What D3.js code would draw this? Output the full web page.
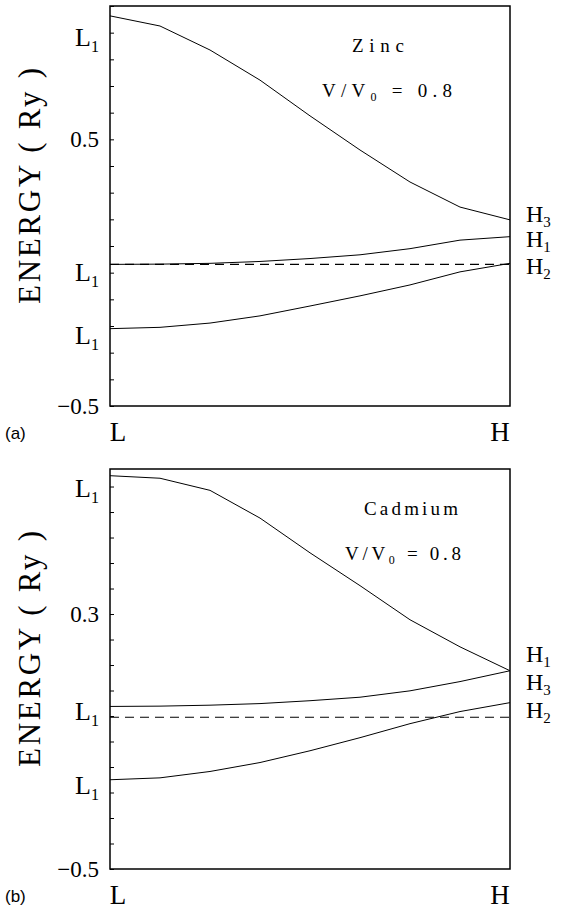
<!DOCTYPE html>
<html>
<head>
<meta charset="utf-8">
<script src="https://cdn.jsdelivr.net/npm/d3@7"></script>
<style>
  body { margin: 0; background: #fff; }
</style>
</head>
<body>
<div id="chart"></div>
<script>
// k-path sample points, L (0) to H (8)
const kPoints = [0, 1, 2, 3, 4, 5, 6, 7, 8];

// (a) Zinc, V/V0 = 0.8  (Ry)
const zincUpper  = [0.963, 0.925, 0.835, 0.722, 0.588, 0.460, 0.340, 0.246, 0.198];
const zincMiddle = [0.031, 0.032, 0.035, 0.042, 0.053, 0.067, 0.090, 0.122, 0.135];
const zincLower  = [-0.210, -0.205, -0.189, -0.162, -0.125, -0.087, -0.046, 0.003, 0.035];
const zincFermi  = 0.031;

// (b) Cadmium, V/V0 = 0.8  (Ry)
const cadUpper  = [0.734, 0.726, 0.688, 0.601, 0.492, 0.389, 0.282, 0.197, 0.122];
const cadMiddle = [0.010, 0.011, 0.014, 0.019, 0.028, 0.039, 0.059, 0.088, 0.122];
const cadLower  = [-0.220, -0.214, -0.194, -0.166, -0.129, -0.088, -0.044, -0.006, 0.022];
const cadFermi  = -0.024;

// axis ticks
const zincTickLabels = [-0.5, 0.5];
const zincTickStep = 0.1;
const cadTickLabels = [-0.5, 0.3];
const cadTickStep = 0.08;

// symmetry labels
const zincLLabels = ['1', '1', '1'];
const zincHLabels = ['3', '1', '2'];
const cadLLabels = ['1', '1', '1'];
const cadHLabels = ['1', '3', '2'];

const serif = '"Liberation Serif", "DejaVu Serif", "Times New Roman", serif';

const width = 566, height = 912;
const svg = d3.select('#chart').append('svg')
    .attr('width', width)
    .attr('height', height)
    .style('font-family', serif);

const panels = [
    {
        top: 6, domain: [-0.5, 1.0], step: zincTickStep, tickLabels: zincTickLabels,
        bands: [zincUpper, zincMiddle, zincLower], fermi: zincFermi,
        lLabels: zincLLabels, lLabelY: [31, 266, 329],
        hLabels: zincHLabels, hLabelY: [209, 234, 261],
        tag: '(a)', name: 'Zinc', nameX: 378, nameW: 52, ratioX: 322, ratioW: 130
    },
    {
        top: 469, domain: [-0.5, 0.755], step: cadTickStep, tickLabels: cadTickLabels,
        bands: [cadUpper, cadMiddle, cadLower], fermi: cadFermi,
        lLabels: cadLLabels, lLabelY: [19, 242, 316],
        hLabels: cadHLabels, hLabelY: [186, 214, 242],
        tag: '(b)', name: 'Cadmium', nameX: 411, nameW: 94, ratioX: 345, ratioW: 116
    }
];

const left = 110, right = 510, plotH = 400;

const x = d3.scaleLinear()
    .domain(d3.extent(kPoints))
    .range([left, right]);

panels.forEach(p => {
    const g = svg.append('g').attr('transform', `translate(0,${p.top})`);

    const y = d3.scaleLinear()
        .domain(p.domain)
        .range([plotH, 0]);

    // minor ticks on the left axis, pointing inward
    const ticks = d3.range(p.domain[0], p.domain[1] + 1e-6, p.step);
    g.append('g')
        .attr('transform', `translate(${left},0)`)
        .call(d3.axisRight(y).tickValues(ticks).tickSize(4).tickFormat(''))
        .call(a => a.select('.domain').remove())
        .selectAll('line').attr('stroke', '#000').attr('stroke-width', 1);

    // tick labels
    g.selectAll('.tick-label')
        .data(p.tickLabels)
        .enter().append('text')
        .attr('class', 'tick-label')
        .attr('x', 99)
        .attr('y', d => y(d))
        .attr('dy', '0.35em')
        .attr('text-anchor', 'end')
        .style('font-size', '23px')
        .text(d => (d < 0 ? '\u2212' : '') + Math.abs(d).toFixed(1));

    // fermi level
    g.append('line')
        .attr('x1', x(kPoints[0])).attr('x2', x(kPoints[kPoints.length - 1]))
        .attr('y1', y(p.fermi)).attr('y2', y(p.fermi))
        .attr('stroke', '#000')
        .attr('stroke-width', 1.1)
        .attr('stroke-dasharray', '9,6');

    // bands
    const line = d3.line()
        .x((d, i) => x(kPoints[i]))
        .y(d => y(d));

    g.selectAll('.band')
        .data(p.bands)
        .enter().append('path')
        .attr('class', 'band')
        .attr('d', line)
        .attr('fill', 'none')
        .attr('stroke', '#000')
        .attr('stroke-width', 1);

    // frame
    g.append('rect')
        .attr('x', left).attr('y', 0)
        .attr('width', right - left).attr('height', plotH)
        .attr('fill', 'none')
        .attr('stroke', '#000')
        .attr('stroke-width', 1.5);

    // L labels
    g.selectAll('.l-label')
        .data(p.lLabels)
        .enter().append('text')
        .attr('class', 'l-label')
        .attr('x', 99)
        .attr('y', (d, i) => p.lLabelY[i])
        .attr('dy', '0.35em')
        .attr('text-anchor', 'end')
        .style('font-size', '26px')
        .each(function (d) {
            const t = d3.select(this);
            t.append('tspan').text('L');
            t.append('tspan').attr('dy', 6).style('font-size', '16px').text(d);
        });

    // H labels
    g.selectAll('.h-label')
        .data(p.hLabels)
        .enter().append('text')
        .attr('class', 'h-label')
        .attr('x', 526)
        .attr('y', (d, i) => p.hLabelY[i])
        .attr('dy', '0.3em')
        .style('font-size', '24px')
        .each(function (d) {
            const t = d3.select(this);
            t.append('tspan').text('H');
            t.append('tspan').attr('dy', 5).style('font-size', '15px').text(d);
        });

    // k-point labels
    g.append('text')
        .attr('x', x(kPoints[0]) + 8).attr('y', plotH + 26)
        .attr('dy', '0.35em')
        .attr('text-anchor', 'middle')
        .style('font-size', '27px')
        .text('L');
    g.append('text')
        .attr('x', x(kPoints[kPoints.length - 1]) - 10).attr('y', plotH + 26)
        .attr('dy', '0.35em')
        .attr('text-anchor', 'middle')
        .style('font-size', '27px')
        .text('H');

    // panel tag
    g.append('text')
        .attr('x', 5).attr('y', plotH + 27)
        .attr('dy', '0.35em')
        .style('font-family', '"Liberation Sans", Arial, sans-serif')
        .style('font-size', '17px')
        .text(p.tag);

    // y axis title
    g.append('text')
        .attr('transform', 'translate(40,180) rotate(-90)')
        .attr('text-anchor', 'middle')
        .attr('textLength', 236)
        .attr('lengthAdjust', 'spacing')
        .style('font-size', '31px')
        .text('ENERGY ( Ry )');

    // metal name and volume ratio
    g.append('text')
        .attr('x', p.nameX - p.nameW / 2).attr('y', 39)
        .attr('dy', '0.35em')
        .attr('textLength', p.nameW)
        .attr('lengthAdjust', 'spacing')
        .style('font-size', '19px')
        .text(p.name);

    const ratio = g.append('text')
        .attr('x', p.ratioX).attr('y', 84)
        .attr('dy', '0.35em')
        .attr('textLength', p.ratioW)
        .attr('lengthAdjust', 'spacing')
        .style('font-size', '19px');
    ratio.append('tspan').text('V/V');
    ratio.append('tspan').attr('dy', 4).style('font-size', '12px').text('0');
    ratio.append('tspan').attr('dy', -4).text('  =  0.8');
});
</script>
</body>
</html>
